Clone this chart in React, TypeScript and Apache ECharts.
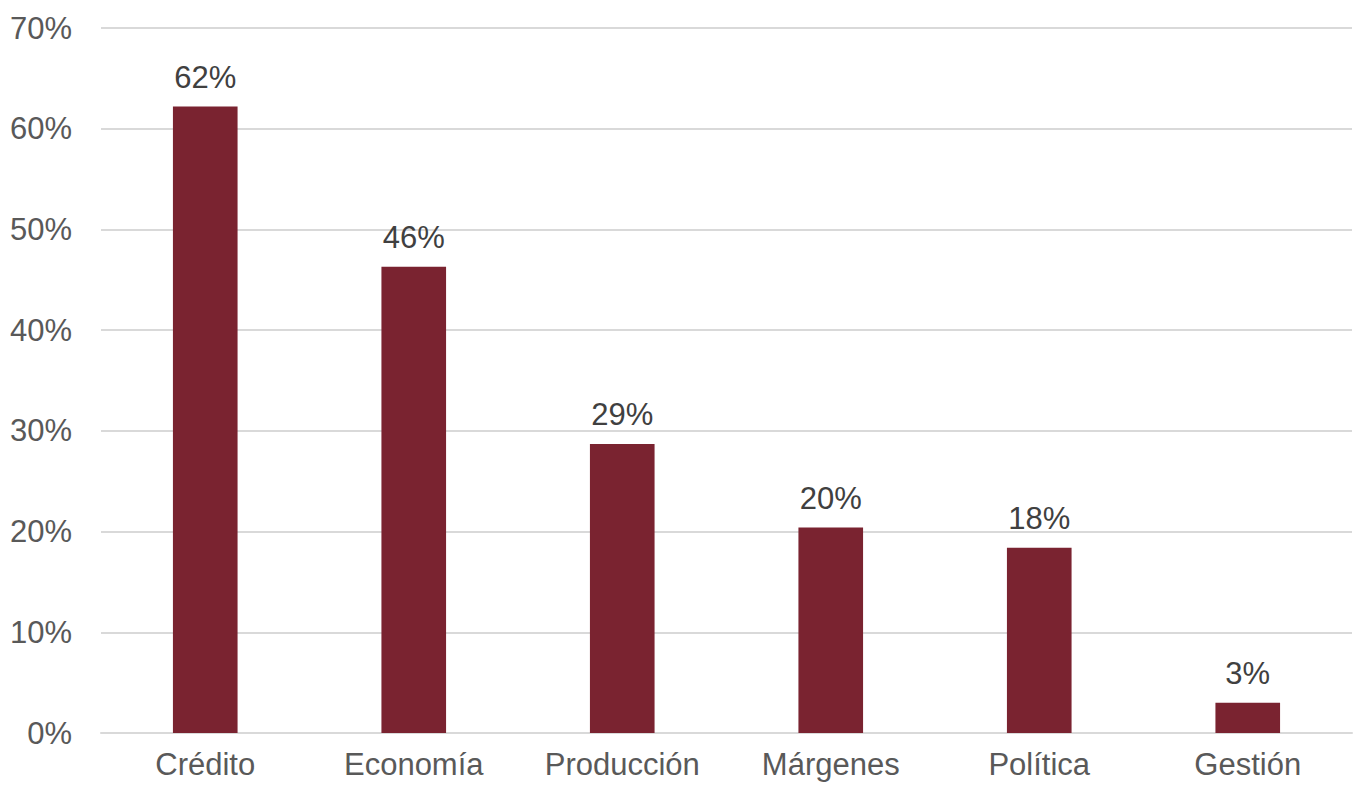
import React, { useEffect, useRef } from "react";
import * as echarts from "echarts";

const categories = ["Crédito", "Economía", "Producción", "Márgenes", "Política", "Gestión"];
const values = [62.2, 46.3, 28.7, 20.4, 18.4, 3.0];
const yTicks = [0, 10, 20, 30, 40, 50, 60, 70];

export default function App() {
  const ref = useRef<HTMLDivElement>(null);
  useEffect(() => {
    document.body.style.margin = "0";
    const chart = echarts.init(ref.current!, null, { renderer: "svg" });
    chart.setOption({
      animation: false,
      backgroundColor: "#ffffff",
      grid: { left: 101, right: 5, top: 28, bottom: 52, containLabel: false },
      xAxis: {
        type: "category",
        data: categories,
        axisLine: { show: true, lineStyle: { color: "#d9d9d9", width: 2 } },
        axisTick: { show: false },
        axisLabel: {
          color: "#595959",
          fontSize: 31,
          fontFamily: "Liberation Sans, Arial, sans-serif",
          margin: 16,
        },
      },
      yAxis: {
        type: "value",
        min: yTicks[0],
        max: yTicks[yTicks.length - 1],
        interval: 10,
        axisLine: { show: false },
        axisTick: { show: false },
        splitLine: { lineStyle: { color: "#d9d9d9", width: 2 } },
        axisLabel: {
          color: "#595959",
          fontSize: 31,
          fontFamily: "Liberation Sans, Arial, sans-serif",
          margin: 29,
          formatter: (v: number) => `${v}%`,
        },
      },
      series: [
        {
          type: "bar",
          data: values,
          barWidth: "31%",
          itemStyle: { color: "#7a2330" },
          label: {
            show: true,
            position: "top",
            distance: 14,
            color: "#404040",
            fontSize: 31,
            fontFamily: "Liberation Sans, Arial, sans-serif",
            formatter: (p: any) => `${Math.round(p.value)}%`,
          },
        },
      ],
    });
    return () => chart.dispose();
  }, []);
  return <div ref={ref} style={{ width: 1357, height: 785 }} />;
}
